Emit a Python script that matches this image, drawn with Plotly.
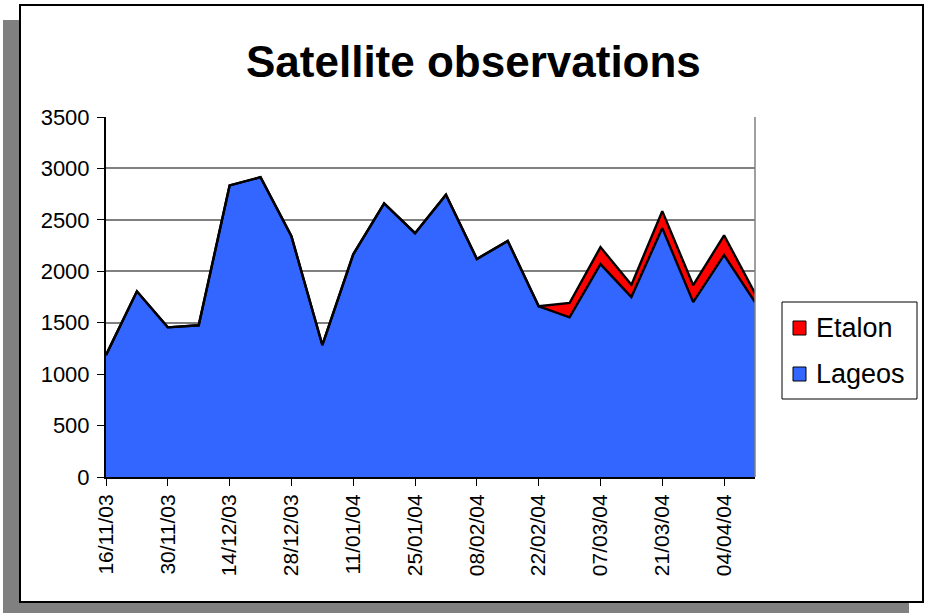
import plotly.graph_objects as go

# ---- data ----
dates = ["2003-11-16", "2003-11-23", "2003-11-30", "2003-12-07", "2003-12-14",
         "2003-12-21", "2003-12-28", "2004-01-04", "2004-01-11", "2004-01-18",
         "2004-01-25", "2004-02-01", "2004-02-08", "2004-02-15", "2004-02-22",
         "2004-02-29", "2004-03-07", "2004-03-14", "2004-03-21", "2004-03-28",
         "2004-04-04", "2004-04-11"]
lageos = [1185, 1805, 1455, 1475, 2835, 2915, 2340, 1283, 2165, 2660,
          2370, 2745, 2120, 2295, 1660, 1552, 2070, 1750, 2420, 1700,
          2158, 1700]
etalon = [0, 0, 0, 0, 0, 0, 0, 0, 0, 0,
          0, 0, 0, 0, 0, 140, 165, 118, 165, 165,
          192, 85]
tick_dates = ["2003-11-16", "2003-11-30", "2003-12-14", "2003-12-28", "2004-01-11",
              "2004-01-25", "2004-02-08", "2004-02-22", "2004-03-07", "2004-03-21",
              "2004-04-04"]
tick_labels = ["16/11/03", "30/11/03", "14/12/03", "28/12/03", "11/01/04",
               "25/01/04", "08/02/04", "22/02/04", "07/03/04", "21/03/04",
               "04/04/04"]
y_ticks = [0, 500, 1000, 1500, 2000, 2500, 3000, 3500]

# ---- geometry (pixels) ----
W, H = 926, 614
L, R, T, B = 106, 755, 117, 477
FONT = "Liberation Sans, Arial, sans-serif"


def px(x):
    return (x - L) / (R - L)


def py(y):
    return (B - y) / (B - T)


fig = go.Figure()
fig.add_trace(go.Scatter(x=dates, y=lageos, name="Lageos", stackgroup="s",
                         mode="lines", line=dict(color="black", width=2.4),
                         fillcolor="#3366FF"))
fig.add_trace(go.Scatter(x=dates, y=etalon, name="Etalon", stackgroup="s",
                         mode="lines", line=dict(color="black", width=2.4),
                         fillcolor="#FF0000"))

shapes = [
    # shadow
    dict(type="rect", xref="paper", yref="paper", x0=px(3), x1=px(909),
         y0=py(613), y1=py(20), fillcolor="#808080", line=dict(width=0),
         layer="below"),
    # frame
    dict(type="rect", xref="paper", yref="paper", x0=px(20), x1=px(923),
         y0=py(602), y1=py(5), fillcolor="white",
         line=dict(color="black", width=2), layer="below"),
    # right border of plot area
    dict(type="line", xref="paper", yref="paper", x0=1, x1=1, y0=0, y1=1,
         line=dict(color="#808080", width=1.5)),
    # legend box
    dict(type="rect", xref="paper", yref="paper", x0=px(782), x1=px(917),
         y0=py(399), y1=py(302), fillcolor="white",
         line=dict(color="black", width=1)),
    dict(type="rect", xref="paper", yref="paper", x0=px(793), x1=px(806),
         y0=py(335), y1=py(321), fillcolor="#FF0000",
         line=dict(color="black", width=1)),
    dict(type="rect", xref="paper", yref="paper", x0=px(793), x1=px(806),
         y0=py(381), y1=py(367), fillcolor="#3366FF",
         line=dict(color="black", width=1)),
]

annotations = [
    dict(text="Satellite observations", xref="paper", yref="paper",
         x=px(473), y=py(61), xanchor="center", yanchor="middle",
         showarrow=False,
         font=dict(family=FONT, size=44, color="black", weight="bold")),
    dict(text="Etalon", xref="paper", yref="paper", x=px(814), y=py(328),
         xanchor="left", yanchor="middle", showarrow=False,
         font=dict(family=FONT, size=27, color="black")),
    dict(text="Lageos", xref="paper", yref="paper", x=px(814), y=py(374),
         xanchor="left", yanchor="middle", showarrow=False,
         font=dict(family=FONT, size=27, color="black")),
]

fig.update_layout(
    width=W, height=H,
    margin=dict(l=L, r=W - R, t=T, b=H - B, pad=0),
    paper_bgcolor="white", plot_bgcolor="white",
    showlegend=False,
    shapes=shapes, annotations=annotations,
    font=dict(family=FONT, color="black"),
)
fig.update_xaxes(
    type="date", range=[dates[0], dates[-1]],
    tickvals=tick_dates, ticktext=tick_labels, tickangle=-90,
    ticks="outside", ticklen=7, tickcolor="black", tickwidth=1,
    showline=True, linecolor="black", linewidth=2,
    showgrid=False, zeroline=False,
    tickfont=dict(family=FONT, size=21, color="black"),
)
fig.update_yaxes(
    range=[0, 3500], tickvals=y_ticks,
    ticks="outside", ticklen=7, tickcolor="black", tickwidth=1,
    showline=True, linecolor="black", linewidth=2,
    showgrid=True, gridcolor="#808080", gridwidth=1.5,
    zeroline=False, ticklabelstandoff=3,
    tickfont=dict(family=FONT, size=22, color="black"),
)

fig.write_html(
    "out.html",
    config={"displayModeBar": False},
    post_script="document.body.style.margin='0';document.body.style.overflow='hidden';",
)
